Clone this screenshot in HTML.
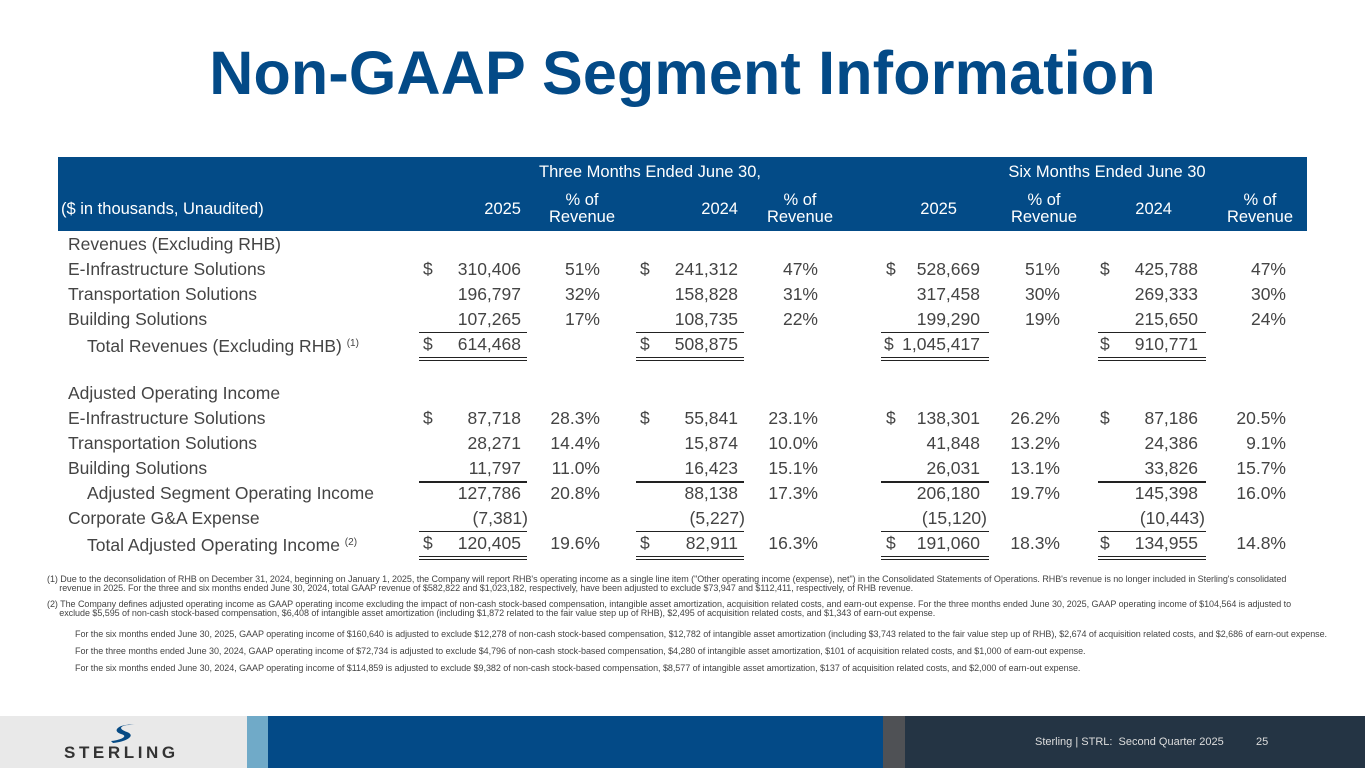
<!DOCTYPE html>
<html><head><meta charset="utf-8"><style>
body{margin:0;width:1365px;height:768px;position:relative;background:#fff;overflow:hidden;font-family:"Liberation Sans",Arial,sans-serif;color:#444}
.a{position:absolute;white-space:nowrap}
.t{font-size:17.5px;line-height:20px}
.r{text-align:right}
.h{color:#fff;font-size:16.5px;line-height:17px}
.ln{position:absolute;height:1.5px;background:#222}
.fn{position:absolute;left:47px;font-size:9px;line-height:8.5px;color:#444;white-space:nowrap;letter-spacing:-0.05px}
sup{font-size:10px;vertical-align:6px}
</style></head><body>
<div class="a" style="left:0;width:1365px;text-align:center;top:38px;font-size:61px;font-weight:bold;color:#034a87;letter-spacing:0.2px">Non-GAAP Segment Information</div>
<div class="a" style="left:58px;top:157px;width:1249px;height:74px;background:#034b87"></div>
<div class="a h" style="left:450px;width:400px;text-align:center;top:164px">Three Months Ended June 30,</div>
<div class="a h" style="left:907px;width:400px;text-align:center;top:164px">Six Months Ended June 30</div>
<div class="a h" style="left:61px;top:201px">($ in thousands, Unaudited)</div>
<div id="tbl"></div>
<div class="fn" style="top:575px">(1) Due to the deconsolidation of RHB on December 31, 2024, beginning on January 1, 2025, the Company will report RHB's operating income as a single line item ("Other operating income (expense), net") in the Consolidated Statements of Operations. RHB's revenue is no longer included in Sterling's consolidated<br>&nbsp;&nbsp;&nbsp;&nbsp;&nbsp;revenue in 2025. For the three and six months ended June 30, 2024, total GAAP revenue of $582,822 and $1,023,182, respectively, have been adjusted to exclude $73,947 and $112,411, respectively, of RHB revenue.</div>
<div class="fn" style="top:600px">(2) The Company defines adjusted operating income as GAAP operating income excluding the impact of non-cash stock-based compensation, intangible asset amortization, acquisition related costs, and earn-out expense. For the three months ended June 30, 2025, GAAP operating income of $104,564 is adjusted to<br>&nbsp;&nbsp;&nbsp;&nbsp;&nbsp;exclude $5,595 of non-cash stock-based compensation, $6,408 of intangible asset amortization (including $1,872 related to the fair value step up of RHB), $2,495 of acquisition related costs, and $1,343 of earn-out expense.</div>
<div class="fn" style="top:630px;left:75px">For the six months ended June 30, 2025, GAAP operating income of $160,640 is adjusted to exclude $12,278 of non-cash stock-based compensation, $12,782 of intangible asset amortization (including $3,743 related to the fair value step up of RHB), $2,674 of acquisition related costs, and $2,686 of earn-out expense.</div>
<div class="fn" style="top:647px;left:75px">For the three months ended June 30, 2024, GAAP operating income of $72,734 is adjusted to exclude $4,796 of non-cash stock-based compensation, $4,280 of intangible asset amortization, $101 of acquisition related costs, and $1,000 of earn-out expense.</div>
<div class="fn" style="top:664px;left:75px">For the six months ended June 30, 2024, GAAP operating income of $114,859 is adjusted to exclude $9,382 of non-cash stock-based compensation, $8,577 of intangible asset amortization, $137 of acquisition related costs, and $2,000 of earn-out expense.</div>
<div class="a" style="left:0;top:716px;width:247px;height:52px;background:#e9e9e9"></div>
<svg class="a" style="left:105px;top:722px" width="36" height="24"><path d="M30 3 C18 2 10 6 22 10 C32 14 20 20 8 21 L6 19 C16 18 24 14 16 12 C6 9 14 1 30 3Z" fill="#064a84"/></svg>
<div class="a" style="left:64px;top:743px;font-size:17px;font-weight:bold;color:#333;letter-spacing:3.6px">STERLING</div>
<div class="a" style="left:247px;top:716px;width:21px;height:52px;background:#70aac8"></div>
<div class="a" style="left:268px;top:716px;width:615px;height:52px;background:#034a87"></div>
<div class="a" style="left:883px;top:716px;width:22px;height:52px;background:#4f5155"></div>
<div class="a" style="left:905px;top:716px;width:460px;height:52px;background:#243444"></div>
<div class="a" style="left:1035px;top:736px;font-size:11px;color:#ddd">Sterling | STRL:&nbsp; Second Quarter 2025</div>
<div class="a" style="left:1256px;top:736px;font-size:11px;color:#ddd">25</div>
<script>
const cols=[521,738,980,1198];const pcts=[600,818,1060,1286];const dols=[423,640,886,1104];
const hdrs=[['2025','% of Revenue'],['2024','% of Revenue'],['2025','% of Revenue'],['2024','% of Revenue']];
const hdrX=[521,738,957,1172];const hdrP=[582,800,1044,1260];
const labels=['Revenues (Excluding RHB)','E-Infrastructure Solutions','Transportation Solutions','Building Solutions','Total Revenues (Excluding RHB)','','Adjusted Operating Income','E-Infrastructure Solutions','Transportation Solutions','Building Solutions','Adjusted Segment Operating Income','Corporate G&A Expense','Total Adjusted Operating Income'];
const indent=[0,0,0,0,1,0,0,0,0,0,1,0,1];
const sups=['','','','','(1)','','','','','','','','(2)'];
const vals=[null,['310,406','241,312','528,669','425,788'],['196,797','158,828','317,458','269,333'],['107,265','108,735','199,290','215,650'],['614,468','508,875','1,045,417','910,771'],null,null,['87,718','55,841','138,301','87,186'],['28,271','15,874','41,848','24,386'],['11,797','16,423','26,031','33,826'],['127,786','88,138','206,180','145,398'],['(7,381)','(5,227)','(15,120)','(10,443)'],['120,405','82,911','191,060','134,955']];
const pc=[null,['51%','47%','51%','47%'],['32%','31%','30%','30%'],['17%','22%','19%','24%'],null,null,null,['28.3%','23.1%','26.2%','20.5%'],['14.4%','10.0%','13.2%','9.1%'],['11.0%','15.1%','13.1%','15.7%'],['20.8%','17.3%','19.7%','16.0%'],null,['19.6%','16.3%','18.3%','14.8%']];
const dollarRows=[1,4,7,12];
const singleAfter=[3,9,11];const doubleAfter=[4,12];
const T=document.getElementById('tbl');
function mk(cls,txt,css){const d=document.createElement('div');d.className=cls;d.innerHTML=txt;d.style.cssText=css;T.appendChild(d);return d;}
hdrs.forEach((h,i)=>{
 const a=mk('a h r',h[0],'left:'+(hdrX[i]-100)+'px;width:100px;top:201px');
 
 
 const b=mk('a h',h[1].replace('% of ','% of<br>'),'left:'+(hdrP[i]-60)+'px;width:120px;text-align:center;top:192px');
 
 
});
const y0=234,rh=24.9;
labels.forEach((l,i)=>{
 const y=y0+i*rh;
 if(l){const d=mk('a t',l+(sups[i]?' <sup>'+sups[i]+'</sup>':''),'left:'+(indent[i]?87:68)+'px;top:'+y+'px');
 
 }
 if(vals[i])vals[i].forEach((v,j)=>{
  const paren=v[0]=='(';
  const d=mk('a t r',v,'left:'+(cols[j]-150+(paren?7:0))+'px;width:150px;top:'+y+'px');
  
  
  if(dollarRows.includes(i)){const s=mk('a t','$','left:'+(j==2&&i==4?dols[j]-2:dols[j]+(j==3?-4:0))+'px;top:'+y+'px');
  
  }
 });
 if(pc[i])pc[i].forEach((v,j)=>{
  const d=mk('a t r',v,'left:'+(pcts[j]-100)+'px;width:100px;top:'+y+'px');
  
  
 });
 const ly=y+rh-2;
 const starts=[419,636,881,1098];
 if(singleAfter.includes(i))starts.forEach(s=>{const d=mk('ln','','left:'+s+'px;width:108px;top:'+ly+'px');
  
  });
 if(doubleAfter.includes(i))starts.forEach(s=>{const d=mk('ln','','left:'+s+'px;width:108px;top:'+ly+'px;height:1px');
  
  
  const e=mk('ln','','left:'+s+'px;width:108px;top:'+(ly+3)+'px;height:1px');
  
  });
});
</script>
</body></html>
